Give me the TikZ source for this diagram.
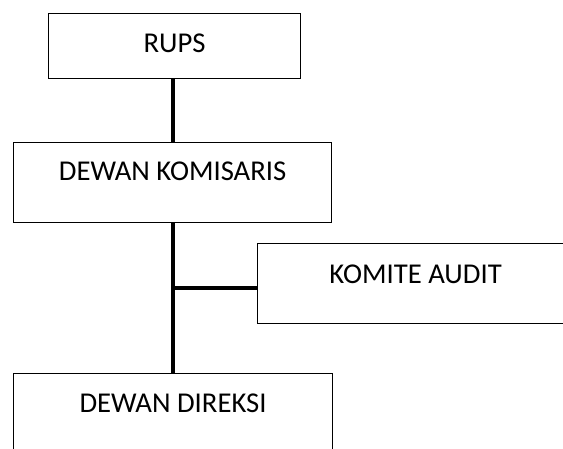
\documentclass[tikz,border=0pt]{standalone}
\usepackage{fontspec}
\setmainfont{Carlito}
\begin{document}
\begin{tikzpicture}[x=1pt,y=-1pt,
  orgbox/.style={draw=black, line width=1.2pt, fill=white, inner sep=0pt,
    anchor=north west, font=\fontsize{28.7}{34}\selectfont},
  conn/.style={draw=black, line width=3.6pt}]
  \useasboundingbox (0,0) rectangle (563,449);
  \clip (0,0) rectangle (563,449);

  % boxes: top edge, baseline and bottom edge set by text height / depth
  \node[orgbox, minimum width=252pt, text height=39pt, text depth=26pt]
    (rups) at (48,13) {RUPS};
  \node[orgbox, minimum width=318pt, text height=38pt, text depth=42pt]
    (kom) at (13,142) {DEWAN KOMISARIS};
  \node[orgbox, minimum width=316pt, text height=40pt, text depth=40pt]
    (aud) at (257,243) {KOMITE AUDIT};
  \node[orgbox, minimum width=319pt, text height=39pt, text depth=42pt]
    (dir) at (13,373) {DEWAN DIREKSI};

  % connectors
  \coordinate (j) at (173,288);
  \draw[conn] (rups.south -| j) -- (kom.north -| j);
  \draw[conn] (kom.south -| j) -- (dir.north -| j);
  \draw[conn] (j) -- (j -| aud.west);
\end{tikzpicture}
\end{document}
